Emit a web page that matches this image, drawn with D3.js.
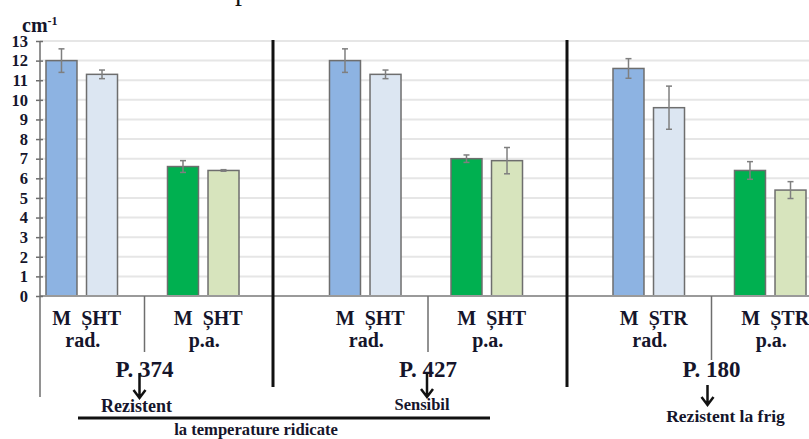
<!DOCTYPE html>
<html>
<head>
<meta charset="utf-8">
<script src="https://cdn.jsdelivr.net/npm/d3@7"></script>
<style>
    body { margin: 0; background: #fff; }
    svg { display: block; }
    text { font-family: "Liberation Serif", "DejaVu Serif", serif; font-weight: bold; fill: #15152b; }
</style>
</head>
<body>
<div id="graph"></div>
<script>
document.addEventListener('DOMContentLoaded', init);

// data
var groups = ["P. 374", "P. 427", "P. 180"];
var organs = ["rad.", "p.a."];
var markers = ["M\u00a0\u00a0ȘHT", "M\u00a0\u00a0ȘHT", "M\u00a0\u00a0ȘTR"];
var groupNotes = ["Rezistent", "Sensibil", "Rezistent la frig"];
var series = ["dark", "light"];
// order: P.374 rad, P.374 p.a., P.427 rad, P.427 p.a., P.180 rad, P.180 p.a.
var darkValues = [12.0, 6.6, 12.0, 7.0, 11.6, 6.4];
var darkErrors = [0.6, 0.3, 0.6, 0.19, 0.5, 0.45];
var lightValues = [11.3, 6.4, 11.3, 6.9, 9.6, 5.4];
var lightErrors = [0.22, 0.04, 0.22, 0.67, 1.1, 0.43];
var yTicks = [0, 1, 2, 3, 4, 5, 6, 7, 8, 9, 10, 11, 12, 13];
var yLabel = "cm";

var colors = {
    "rad.": { dark: "#8db3e2", light: "#dce6f2" },
    "p.a.": { dark: "#00b050", light: "#d7e4bd" }
};

let svgWidth = 809;
let svgHeight = 439;
let axisLeftX = 40;
let axisTop = 41;
let axisBottom = 296;

let groupScale = d3.scaleBand()
    .domain(groups)
    .range([0.75, 0.75 + 283.5 * groups.length])
    .paddingInner(0)
    .paddingOuter(0);

let organScale = d3.scaleBand()
    .domain(organs)
    .range([0, groupScale.bandwidth()])
    .paddingInner(1 / 3)
    .paddingOuter(1 / 3);

let seriesScale = d3.scaleBand()
    .domain(series)
    .range([0, organScale.bandwidth()])
    .paddingInner(0.235)
    .paddingOuter(0.117);

let yScale = d3.scaleLinear()
    .domain([0, 13])
    .range([axisBottom, axisTop]);

let yAxis = d3.axisLeft()
    .scale(yScale)
    .tickValues(yTicks)
    .tickSize(4)
    .tickPadding(8);

function buildRows() {
    let rows = [];
    groups.forEach((g, gi) => {
        organs.forEach((o, oi) => {
            let i = gi * organs.length + oi;
            rows.push({ group: g, organ: o, marker: markers[gi], series: "dark", value: darkValues[i], err: darkErrors[i] });
            rows.push({ group: g, organ: o, marker: markers[gi], series: "light", value: lightValues[i], err: lightErrors[i] });
        });
    });
    return rows;
}

// x of the divider between rad. and p.a. inside a group
function dividerX(g) {
    let radEnd = organScale("rad.") + organScale.bandwidth();
    return groupScale(g) + (radEnd + organScale("p.a.")) / 2 + 2;
}

function init() {
    let rows = buildRows();

    let svg = d3.select("#graph")
        .append("svg")
        .attr("width", svgWidth)
        .attr("height", svgHeight);

    // gridlines
    svg.append("g")
        .selectAll("line")
        .data(yTicks.filter((d) => d > 0))
        .enter()
        .append("line")
        .attr("x1", axisLeftX)
        .attr("x2", svgWidth)
        .attr("y1", (d) => yScale(d))
        .attr("y2", (d) => yScale(d))
        .attr("stroke", "#e6e6e6")
        .attr("stroke-width", 2);

    // bars
    let barX = (d) => groupScale(d.group) + organScale(d.organ) + seriesScale(d.series);

    svg.append("g")
        .selectAll("rect")
        .data(rows)
        .enter()
        .append("rect")
        .attr("x", barX)
        .attr("y", (d) => yScale(d.value))
        .attr("width", seriesScale.bandwidth())
        .attr("height", (d) => yScale(0) - yScale(d.value))
        .attr("fill", (d) => colors[d.organ][d.series])
        .attr("stroke", "#6e6e6e")
        .attr("stroke-width", 1.5);

    // error bars
    let err = svg.append("g")
        .attr("stroke", "#7f7f7f")
        .attr("stroke-width", 1.5)
        .selectAll("g")
        .data(rows)
        .enter()
        .append("g")
        .attr("transform", (d) => "translate(" + (barX(d) + seriesScale.bandwidth() / 2) + ",0)");

    err.append("line")
        .attr("y1", (d) => yScale(d.value + d.err))
        .attr("y2", (d) => yScale(d.value - d.err));
    err.append("line")
        .attr("x1", -3).attr("x2", 3)
        .attr("y1", (d) => yScale(d.value + d.err))
        .attr("y2", (d) => yScale(d.value + d.err));
    err.append("line")
        .attr("x1", -3).attr("x2", 3)
        .attr("y1", (d) => yScale(d.value - d.err))
        .attr("y2", (d) => yScale(d.value - d.err));

    // x axis line
    svg.append("line")
        .attr("x1", axisLeftX).attr("x2", svgWidth)
        .attr("y1", axisBottom).attr("y2", axisBottom)
        .attr("stroke", "#9a9a9a")
        .attr("stroke-width", 2);

    // y axis
    let ya = svg.append("g")
        .attr("class", "y axis")
        .attr("transform", "translate(" + axisLeftX + ",0)")
        .call(yAxis);
    ya.select(".domain").remove();
    ya.selectAll("line").attr("stroke", "#6e6e6e").attr("stroke-width", 1.5).attr("x2", 3).attr("x1", -4);
    ya.selectAll("text")
        .attr("font-size", "16.5px")
        .attr("font-family", "Liberation Serif")
        .attr("font-weight", "bold")
        .attr("fill", "#15152b");

    svg.append("line")
        .attr("x1", axisLeftX).attr("x2", axisLeftX)
        .attr("y1", axisTop).attr("y2", 397)
        .attr("stroke", "#6e6e6e")
        .attr("stroke-width", 1.5);

    // y label cm-1
    let yl = svg.append("text")
        .attr("x", 22)
        .attr("y", 32)
        .attr("font-size", "20px");
    yl.append("tspan").text(yLabel);
    yl.append("tspan").attr("dy", -7).attr("font-size", "12px").text("-1");

    // category dividers
    svg.append("g")
        .selectAll("line")
        .data(groups)
        .enter()
        .append("line")
        .attr("x1", (d) => dividerX(d))
        .attr("x2", (d) => dividerX(d))
        .attr("y1", axisBottom)
        .attr("y2", (d, i) => i == 2 ? 360 : 352)
        .attr("stroke", "#6e6e6e")
        .attr("stroke-width", 1.5);

    // category labels
    let cat = svg.append("g")
        .selectAll("text")
        .data(rows.filter((d) => d.series == "dark"))
        .enter()
        .append("text")
        .attr("text-anchor", "middle")
        .attr("font-size", "20px");
    cat.append("tspan")
        .attr("x", (d) => groupScale(d.group) + organScale(d.organ) + organScale.bandwidth() / 2 + 5)
        .attr("y", 325)
        .text((d) => d.marker);
    cat.append("tspan")
        .attr("x", (d) => groupScale(d.group) + organScale(d.organ) + organScale.bandwidth() / 2 + 1)
        .attr("y", 347)
        .text((d) => d.organ);

    // thick separators
    svg.append("g")
        .selectAll("line")
        .data([273, 567])
        .enter()
        .append("line")
        .attr("x1", (d) => d).attr("x2", (d) => d)
        .attr("y1", 40).attr("y2", 387)
        .attr("stroke", "#111")
        .attr("stroke-width", 3);

    // group labels, arrows and notes
    let gl = svg.append("g")
        .selectAll("g")
        .data(groups)
        .enter()
        .append("g")
        .attr("transform", (d) => "translate(" + dividerX(d) + ",0)");

    gl.append("text")
        .attr("text-anchor", "middle")
        .attr("font-size", "23px")
        .attr("y", 377)
        .text((d) => d);

    let arrowTop = [373, 373, 385];
    let arrowBottom = [398, 397, 405];
    let arrowDx = [-5, -1, -4];
    gl.append("path")
        .attr("d", (d, i) => "M" + arrowDx[i] + "," + arrowTop[i] + "V" + arrowBottom[i] +
            "M" + (arrowDx[i] - 6) + "," + (arrowBottom[i] - 8) + "L" + arrowDx[i] + "," + arrowBottom[i] +
            "L" + (arrowDx[i] + 6) + "," + (arrowBottom[i] - 8))
        .attr("fill", "none")
        .attr("stroke", "#111")
        .attr("stroke-width", 2.5);

    let noteDx = [-8, -6, 14];
    let noteY = [412, 410, 422];
    let noteSize = [18, 16.5, 17.5];
    gl.append("text")
        .attr("text-anchor", "middle")
        .attr("font-size", (d, i) => noteSize[i] + "px")
        .attr("x", (d, i) => noteDx[i])
        .attr("y", (d, i) => noteY[i])
        .text((d, i) => groupNotes[i]);

    // bracket for heat
    svg.append("line")
        .attr("x1", 78).attr("x2", 490)
        .attr("y1", 418).attr("y2", 418)
        .attr("stroke", "#111")
        .attr("stroke-width", 3);

    svg.append("text")
        .attr("x", 256)
        .attr("y", 434.5)
        .attr("text-anchor", "middle")
        .attr("font-size", "16.6px")
        .text("la temperature ridicate");

    // clipped title remnant at the top edge
    svg.append("text")
        .attr("x", 235)
        .attr("y", -0.5)
        .attr("font-size", "28px")
        .style("font-weight", "normal")
        .style("fill", "#111")
        .text("p");
}
</script>
</body>
</html>
